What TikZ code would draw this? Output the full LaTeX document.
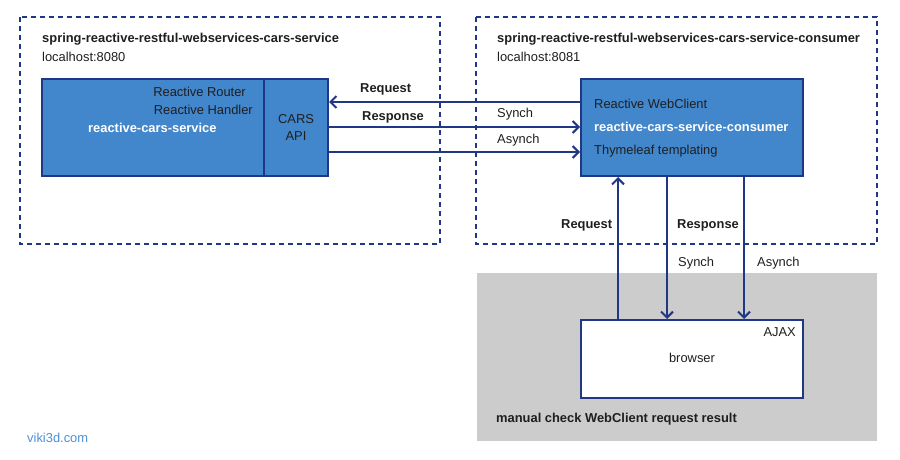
\documentclass[tikz,border=0pt]{standalone}
\usepackage{fontspec}
\setmainfont{Liberation Sans}
\usetikzlibrary{arrows.meta}
\definecolor{boxblue}{HTML}{4286CC}
\definecolor{lineblue}{HTML}{1F3785}
\definecolor{areagrey}{HTML}{CCCCCC}
\definecolor{linkblue}{HTML}{4A90D9}
\tikzset{
  appbox/.style={draw=lineblue, line width=2pt, dash pattern=on 5pt off 4pt},
  compbox/.style={draw=lineblue, fill=boxblue, line width=2pt, inner sep=0pt},
  link/.style={draw=lineblue, line width=2pt, -{Straight Barb[length=6pt,width=12pt,line width=2pt]}},
  txt/.style={inner sep=0pt, anchor=west, font=\fontsize{12.9}{14}\selectfont, text=black!88},
  btxt/.style={txt, font=\fontsize{12.9}{14}\selectfont\bfseries},
}
\begin{document}
\begin{tikzpicture}[x=1pt,y=-1pt]
    \useasboundingbox (0,0) rectangle (900,460);

    % the two applications
    \draw[appbox] (20,17) rectangle (440,244);
    \draw[appbox] (476,17) rectangle (877,244);
    \fill[areagrey] (477,273) rectangle (877,441);

    \node[btxt] (svctitle) at (42,39) {spring-reactive-restful-webservices-cars-service};
    \node[txt] (svchost) at (42,57) {localhost:8080};
    \node[btxt] (cnstitle) at (497,39) {spring-reactive-restful-webservices-cars-service-consumer};
    \node[txt] (cnshost) at (497,57) {localhost:8081};

    % components
    \node[compbox, minimum width=222pt, minimum height=97pt] (svc) at (153,127.5) {};
    \node[compbox, minimum width=64pt, minimum height=97pt] (api) at (296,127.5) {};
    \node[compbox, minimum width=222pt, minimum height=97pt] (client) at (692,127.5) {};
    \node[draw=lineblue, fill=white, line width=2pt, minimum width=222pt, minimum height=78pt] (browser) at (692,359) {};

    \node[txt, anchor=east] (router) at (246,92) {Reactive Router};
    \node[txt, anchor=east] (handler) at (253,110) {Reactive Handler};
    \node[btxt, text=white] (svcname) at (88,128) {reactive-cars-service};
    \node[txt, anchor=center, align=center] (apiname) at (296,127) {CARS\\[3pt]API};

    \node[txt] (webclient) at (594,104) {Reactive WebClient};
    \node[btxt, text=white] (cnsname) at (594,127) {reactive-cars-service-consumer};
    \node[txt] (thyme) at (594,151) {Thymeleaf templating};

    \node[txt, anchor=east] (ajax) at (796,332) {AJAX};
    \node[txt, anchor=center] (brname) at (692,358) {browser};
    \node[btxt] (manual) at (496,419) {manual check WebClient request result};
    \node[txt, text=linkblue] (site) at (27,438) {viki3d.com};

    % connectors between the services
    \coordinate (rq) at (0,102);
    \coordinate (rs) at (0,127);
    \coordinate (as) at (0,152);
    \draw[link] (client.west |- rq) -- (api.east |- rq);
    \draw[link] (api.east |- rs) -- (client.west |- rs);
    \draw[link] (api.east |- as) -- (client.west |- as);
    \node[btxt] (rqlbl) at (360,89) {Request};
    \node[btxt] (rslbl) at (362,117) {Response};
    \node[txt] (sylbl) at (497,114) {Synch};
    \node[txt] (aslbl) at (497,140) {Asynch};

    % connectors to the browser
    \coordinate (vrq) at (618,0);
    \coordinate (vrs) at (667,0);
    \coordinate (vas) at (744,0);
    \draw[link] (browser.north -| vrq) -- (client.south -| vrq);
    \draw[link] (client.south -| vrs) -- (browser.north -| vrs);
    \draw[link] (client.south -| vas) -- (browser.north -| vas);
    \node[btxt] (vrqlbl) at (561,225) {Request};
    \node[btxt] (vrslbl) at (677,225) {Response};
    \node[txt] (vsylbl) at (678,263) {Synch};
    \node[txt] (vaslbl) at (757,263) {Asynch};
\end{tikzpicture}
\end{document}
